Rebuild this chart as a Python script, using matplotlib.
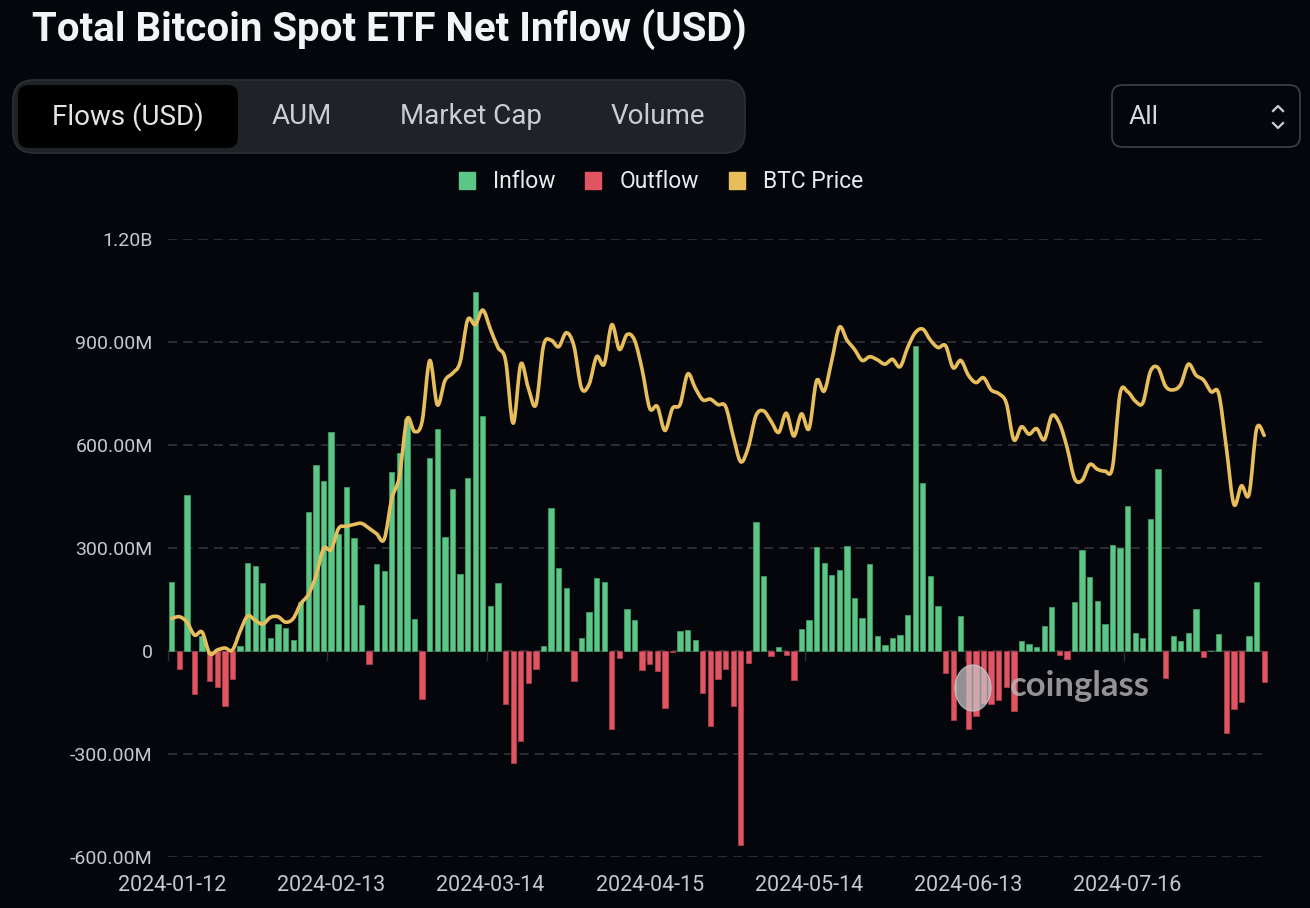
import matplotlib
matplotlib.use("Agg")
import matplotlib.pyplot as plt
from matplotlib.patches import FancyBboxPatch, Patch, Ellipse, PathPatch
from matplotlib.path import Path
from matplotlib.lines import Line2D
from matplotlib.ticker import FuncFormatter
import numpy as np
import pandas as pd

plt.rcParams['font.family'] = ['Roboto', 'DejaVu Sans']

# trading days of the spot ETFs
holidays = ['2024-01-15', '2024-02-19', '2024-03-29', '2024-05-27', '2024-06-19', '2024-07-04']
dates = pd.bdate_range('2024-01-12', '2024-08-09', freq='C', holidays=holidays)
date_labels = [d.strftime('%Y-%m-%d') for d in dates]

# net flow per day, millions USD
flows = [202, -53, 454, -126, 45, -88, -106, -159, -81, 14,
         255, 247, 197, 38, 78, 67, 33, 144, 404, 542,
         494, 637, 340, 477, 330, 135, -37, 252, 232, 520,
         577, 675, 92, -140, 562, 648, 332, 473, 223, 505,
         1046, 684, 132, 199, -155, -326, -262, -93, -52, 14,
         417, 243, 183, -87, 38, 113, 213, 202, -226, -20,
         123, 90, -56, -37, -59, -167, -4, 59, 61, 31,
         -122, -218, -83, -52, -161, -564, -34, 377, 217, -16,
         11, -12, -85, 65, 89, 302, 256, 220, 237, 305,
         153, 97, 252, 44, 17, 37, 48, 104, 887, 488,
         218, 131, -65, -202, 101, -227, -190, -150, -153, -142,
         -105, -175, 30, 19, 11, 73, 129, -13, -22, 142,
         295, 216, 147, 78, 310, 301, 423, 53, 37, 384,
         530, -78, 44, 30, 52, 122, -18, 0, 49, -238,
         -169, -149, 44, 201, -90]

# BTC price, USD
btc_price = [43150, 43330, 42800, 41540, 41830, 39750, 40100, 40290, 40100, 41900,
             43400, 42970, 42610, 43260, 43330, 42800, 43150, 44580, 45480, 47270,
             49950, 49850, 51920, 52100, 52280, 52390, 51920, 51380, 50850, 54790,
             56930, 62500, 61300, 62300, 68200, 63900, 66240, 66960, 68030, 72150,
             71680, 73100, 71250, 69460, 68200, 62120, 67850, 65530, 63930, 69640,
             70180, 69540, 70900, 69640, 65530, 65880, 68570, 67850, 71680, 69280,
             70720, 70180, 67320, 63560, 63740, 61410, 63560, 63930, 66890, 65530,
             64380, 64450, 63920, 63740, 60870, 58370, 59800, 62840, 63310, 62300,
             61230, 63090, 60870, 63020, 61590, 66240, 65240, 68210, 71430, 70180,
             69280, 68210, 68570, 68280, 67850, 68320, 67600, 69460, 70900, 71250,
             70180, 69460, 69640, 67500, 68210, 66780, 66060, 66530, 65350, 64990,
             64090, 60510, 61770, 61050, 61590, 60510, 62840, 62120, 59800, 56750,
             56580, 58110, 57650, 57470, 57830, 64990, 65170, 64270, 64090, 67140,
             67500, 65700, 65350, 65880, 67850, 66780, 66310, 65170, 64990, 59800,
             54250, 56040, 55220, 61590, 60940]

tabs = ['Flows (USD)', 'AUM', 'Market Cap', 'Volume']
yticks = [-600, -300, 0, 300, 600, 900, 1200]

BG = '#05060b'
GREEN = '#5cc686'
RED = '#e15462'
GOLD = '#e8be5c'
TXT = '#c4c8cf'

W, H = 1310, 908
fig = plt.figure(figsize=(W / 100, H / 100), dpi=100, facecolor=BG)


def fx(x):
    return x / W


def fy(y):
    return 1 - y / H


ax = fig.add_axes([fx(168), fy(857), fx(1268) - fx(168), fy(239) - fy(857)])
ax.set_facecolor(BG)

x = np.arange(len(flows))
colors = [GREEN if v >= 0 else RED for v in flows]
edges = ['#3f9a64' if v >= 0 else '#a83d4a' for v in flows]
ax.bar(x, flows, width=0.7, color=colors, edgecolor=edges, linewidth=0.6, zorder=2)

ax.set_xlim(-0.5, len(flows) - 0.5)
ax.set_ylim(-600, 1200)
ax.set_yticks(yticks)


def fmt(v, pos):
    if v == 0:
        return '0'
    if abs(v) >= 1000:
        return f'{v / 1000:.2f}B'
    return f'{v:.2f}M'


ax.yaxis.set_major_formatter(FuncFormatter(fmt))
ax.yaxis.grid(True, color='#36383c', linestyle=(0, (6, 4)), linewidth=1.1, zorder=0)
ax.tick_params(axis='y', length=0, pad=11, labelsize=14, labelcolor=TXT)
for s in ax.spines.values():
    s.set_visible(False)

lab_idx = list(range(0, len(flows), 21))
ax.set_xticks(lab_idx)
ax.set_xticklabels([date_labels[i] for i in lab_idx])
ax.tick_params(axis='x', length=0, pad=13, labelsize=15.5, labelcolor=TXT)

# small ticks on the zero line
sec = ax.secondary_xaxis(0, transform=ax.transData)
sec.set_xticks([i - 0.5 for i in lab_idx])
sec.set_xticklabels([''] * len(lab_idx))
sec.tick_params(axis='x', length=7, width=1, color='#2c2e33', direction='out')
sec.spines['bottom'].set_visible(False)

# price line, drawn as a smooth bezier path through the daily points
ax2 = ax.twinx()
ax2.set_ylim(20000, 80000)
p = np.array(btc_price, dtype=float)
verts = [(x[0], p[0])]
codes = [Path.MOVETO]
n = len(p)
for i in range(n - 1):
    i0 = max(i - 1, 0)
    i3 = min(i + 2, n - 1)
    c1 = (x[i] + (x[i + 1] - x[i0]) / 6, p[i] + (p[i + 1] - p[i0]) / 6)
    c2 = (x[i + 1] - (x[i3] - x[i]) / 6, p[i + 1] - (p[i3] - p[i]) / 6)
    verts += [c1, c2, (x[i + 1], p[i + 1])]
    codes += [Path.CURVE4] * 3
ax2.add_patch(PathPatch(Path(verts, codes), fill=False, edgecolor=GOLD, linewidth=2.6,
                        joinstyle='round', capstyle='round', zorder=3))
ax2.set_yticks([])
for s in ax2.spines.values():
    s.set_visible(False)

# watermark
fig.text(fx(1080), fy(686), 'coinglass', color='#b8b8b8', alpha=0.8, fontsize=25,
         fontweight='bold', ha='center', va='center', family=['Lato', 'DejaVu Sans'])
fig.add_artist(Ellipse((fx(973), fy(688)), fx(36), 46 / H, color='#c8c8c8', alpha=0.72))

# title
fig.text(fx(32), fy(29), 'Total Bitcoin Spot ETF Net Inflow (USD)', color='#f3f4f6',
         fontsize=29, fontweight='bold', ha='left', va='center')

# tab bar
fig.add_artist(FancyBboxPatch((fx(13), fy(153)), fx(732), 73 / H,
                              boxstyle='round,pad=0,rounding_size=0.016',
                              facecolor='#1f2227', edgecolor='#2c2f35', linewidth=1.2,
                              transform=fig.transFigure, mutation_aspect=W / H))
fig.add_artist(FancyBboxPatch((fx(18), fy(148)), fx(220), 63 / H,
                              boxstyle='round,pad=0,rounding_size=0.008',
                              facecolor='#000000', edgecolor='none',
                              transform=fig.transFigure, mutation_aspect=W / H))
tab_x = [128, 302, 471, 658]
for t, tx in zip(tabs, tab_x):
    fig.text(fx(tx), fy(117), t, color='#e2e4e8' if t == tabs[0] else '#c9cdd4',
             fontsize=20, ha='center', va='center')

# range selector
fig.add_artist(FancyBboxPatch((fx(1112), fy(147)), fx(188), 62 / H,
                              boxstyle='round,pad=0,rounding_size=0.008',
                              facecolor='none', edgecolor='#3a3d43', linewidth=1.3,
                              transform=fig.transFigure, mutation_aspect=W / H))
fig.text(fx(1129), fy(117), 'All', color='#d6d9de', fontsize=19, ha='left', va='center')
fig.add_artist(Line2D([fx(1273), fx(1278), fx(1283)], [fy(111), fy(106), fy(111)],
                      color='#c9cdd4', linewidth=1.6, transform=fig.transFigure))
fig.add_artist(Line2D([fx(1273), fx(1278), fx(1283)], [fy(123), fy(128), fy(123)],
                      color='#c9cdd4', linewidth=1.6, transform=fig.transFigure))

# legend
handles = [Patch(color=GREEN, label='Inflow'), Patch(color=RED, label='Outflow'),
           Patch(color=GOLD, label='BTC Price')]
leg = fig.legend(handles=handles, loc='center', bbox_to_anchor=(fx(661), fy(182)), ncol=3,
                 frameon=False, fontsize=16.5, handlelength=0.7, handleheight=0.7,
                 handletextpad=0.8, columnspacing=1.3, labelcolor='#e8eaee')

fig.savefig('out.png', dpi=100, facecolor=BG)
